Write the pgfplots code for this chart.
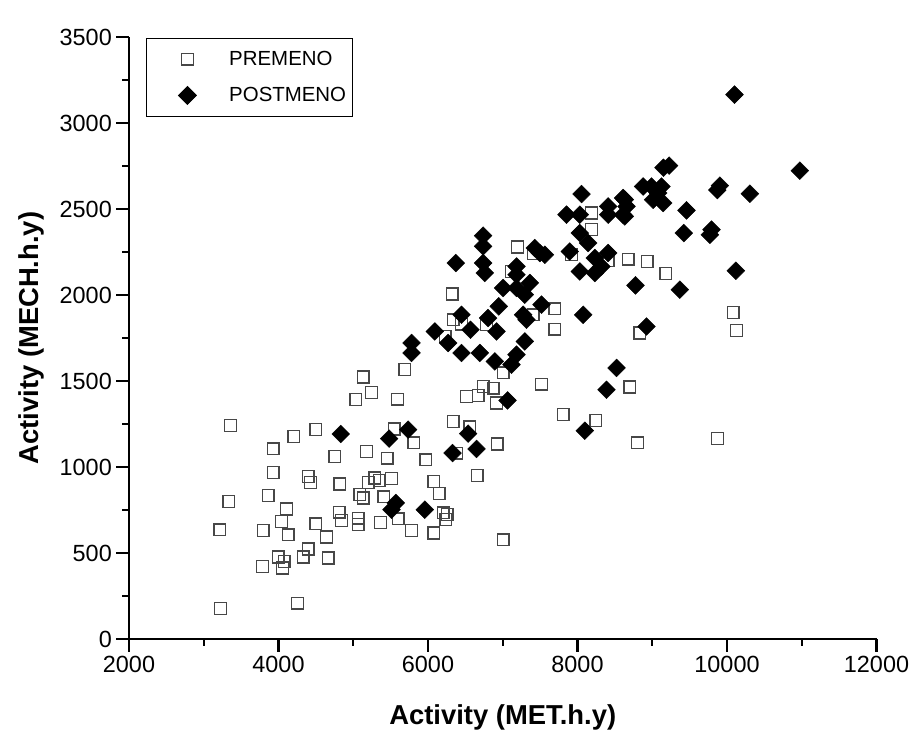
\documentclass[border=0pt]{standalone}
\usepackage{fontspec}
\setmainfont{Liberation Sans}
\usepackage{pgfplots}
\pgfplotsset{compat=1.18}
\begin{document}
\begin{tikzpicture}
\begin{axis}[
  at={(0,0)}, anchor=south west,
  scale only axis, width=747.5bp, height=602bp,
  xmin=2000, xmax=12000, ymin=0, ymax=3500,
  scaled x ticks=false, scaled y ticks=false,
  axis lines=left, axis line style={-, line width=2.6bp, black},
  tick align=outside,
  major tick length=12.7bp, minor tick length=6.7bp,
  minor x tick num=1, minor y tick num=1,
  xtick={2000,4000,...,12000}, ytick={0,500,...,3500},
  every tick/.style={black, line width=2.4bp},
  every minor tick/.style={black, line width=2.4bp},
  /pgf/number format/assume math mode=true,
  /pgf/number format/1000 sep={},
  every tick label/.append style={font=\fontsize{23.5}{28}\selectfont},
  xticklabel style={yshift=-1bp},
  yticklabel style={xshift=-1bp},
  xlabel={Activity (MET.h.y)},
  ylabel={Activity (MECH.h.y)},
  label style={font=\fontsize{27.5}{32}\selectfont\bfseries},
  xlabel style={at={(axis description cs:0.5,-0.1296)}, anchor=center},
  ylabel style={at={(axis description cs:-0.131,0.5)}, anchor=center},
  legend style={at={(axis description cs:0,1)}, anchor=north west,
    xshift=17bp, yshift=-1bp, draw=black, line width=0.9bp,
    font=\fontsize{20.5}{24}\selectfont,
    nodes={inner xsep=6.8bp, inner ysep=6.8bp},
    inner xsep=0bp, inner ysep=6bp, row sep=7bp},
  legend cell align=left,
  legend image code/.code={%
    \path[draw=none,fill=none] (-41bp,-5bp) rectangle (35bp,5bp);
    \draw[mark repeat=2,mark phase=2,#1] plot coordinates {(-1bp,0bp) (0bp,0bp) (1bp,0bp)};},
]
\addplot[only marks, mark=square, mark size=5.9bp,
  mark options={draw=black!72, line width=1.3bp}] table {
x y
3224 176
4254 209
3215 635
3335 800
3358 1242
3786 422
3794 631
3861 835
3928 969
3928 1105
3995 477
4040 684
4053 413
4075 451
4107 756
4128 606
4205 1178
4329 477
4396 523
4396 945
4428 910
4499 670
4499 1217
4642 593
4664 471
4753 1062
4811 738
4820 901
4843 690
5034 1391
5065 703
5065 665
5088 839
5132 820
5132 1523
5177 1091
5199 910
5244 1434
5288 936
5346 922
5364 678
5409 826
5453 1052
5512 932
5547 1221
5592 1395
5600 699
5690 1566
5779 630
5810 1140
5971 1042
6078 916
6078 616
6149 845
6202 733
6238 694
6256 723
6230 1760
6323 2006
6336 1856
6336 1265
6381 1081
6448 1831
6515 1411
6559 1233
6657 951
6670 1415
6737 1469
6783 1827
6871 1459
6917 1372
6925 1134
7005 1547
7005 577
7117 2137
7197 2279
7406 2240
7406 1885
7520 1482
7697 1920
7697 1802
7808 1304
7923 2234
8187 2477
8187 2380
8245 1271
8410 2201
8677 2209
8700 1465
8800 1140
8833 1779
8931 2195
9181 2124
9870 1165
10082 1899
10127 1794
};
\addlegendentry{PREMENO}
\addplot[only marks, mark=square*, mark size=6.3bp,
  mark options={rotate=45, fill=black, draw=black}] table {
x y
4833 1192
5480 1165
5512 752
5569 791
5734 1217
5780 1721
5780 1663
5957 752
6091 1788
6269 1721
6328 1081
6372 2186
6448 1885
6448 1663
6537 1194
6568 1798
6649 1105
6693 1663
6737 2345
6737 2283
6737 2186
6760 2128
6804 1866
6894 1614
6917 1788
6947 1934
7005 2041
7064 1387
7117 1595
7184 1653
7184 2166
7184 2118
7184 2041
7273 1885
7295 1730
7295 2002
7318 1856
7362 2070
7429 2273
7496 2244
7519 1944
7563 2234
7853 2467
7896 2253
8031 2467
8031 2360
8031 2137
8054 2587
8076 1885
8098 1211
8142 2302
8232 2215
8232 2128
8321 2166
8388 1449
8410 2244
8410 2515
8410 2467
8522 1576
8610 2564
8610 2467
8633 2554
8633 2457
8656 2515
8776 2056
8878 2631
8923 1817
8990 2631
9012 2554
9079 2593
9124 2631
9146 2535
9150 2740
9226 2752
9369 2031
9422 2360
9458 2492
9771 2350
9793 2380
9870 2610
9905 2636
10100 3165
10118 2141
10306 2589
10974 2723
};
\addlegendentry{POSTMENO}
\end{axis}
\pgfresetboundingbox
\path (-129bp,-91bp) rectangle (788bp,639bp);
\end{tikzpicture}
\end{document}
